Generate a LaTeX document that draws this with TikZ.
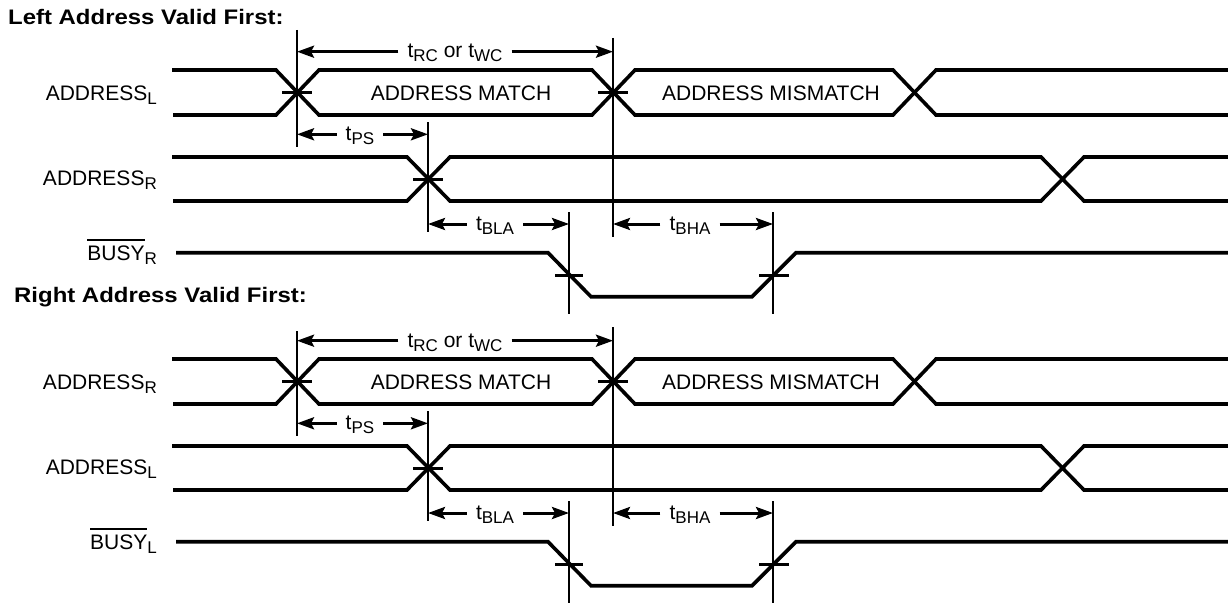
\documentclass[tikz,border=0pt]{standalone}
\usepackage{fontspec}
\usepackage{graphicx}
\setmainfont{Liberation Sans}
\usetikzlibrary{arrows.meta}
\newcommand{\sbs}[1]{\raisebox{-4pt}{\fontsize{17}{17}\selectfont #1}}
\newcommand{\ovl}[1]{\vbox{\hrule height 1.8pt\kern 4.2pt\hbox{#1}}}
\tikzset{
  wave/.style={line width=3.6pt},
  vline/.style={line width=2pt},
  tickmark/.style={line width=3pt},
  dim/.style={line width=3pt,-{Stealth[length=17pt,width=12pt,inset=3pt]}},
  lbl/.style={inner sep=0pt,anchor=base east,font=\fontsize{21}{24}\selectfont},
  txt/.style={inner sep=0pt,anchor=base,font=\fontsize{21}{24}\selectfont},
  tlab/.style={inner xsep=9pt,inner ysep=0pt,anchor=base,font=\fontsize{21}{24}\selectfont},
  ttl/.style={inner sep=0pt,anchor=base west,font=\fontsize{21}{24}\selectfont\bfseries},
}
% #1 prefix, #2 upper label, #3 lower label, #4 busy label, #5 top of first vertical, #6 yshift
\newcommand{\tblock}[6]{%
\begin{scope}[yshift=#6,name prefix=#1]
  \node[lbl] (sa) at (157,100) {#2};
  \node[lbl] (sb) at (157,185) {#3};
  \node[lbl] (bz) at (157,260) {#4};
  % upper bus
  \draw[wave] (172,70) -- (276,70) -- (319,115) -- (592,115) -- (635,70) -- (893,70) -- (936,115) -- (1228,115);
  \draw[wave] (173,115) -- (276,115) -- (319,70) -- (592,70) -- (635,115) -- (893,115) -- (936,70) -- (1228,70);
  \node[txt] (match) at (461,100) {ADDRESS MATCH};
  \node[txt] (mismatch) at (771,100) {ADDRESS MISMATCH};
  % lower bus
  \draw[wave] (172,157) -- (407,157) -- (450,201) -- (1041,201) -- (1084,157) -- (1228,157);
  \draw[wave] (173,201) -- (407,201) -- (450,157) -- (1041,157) -- (1084,201) -- (1228,201);
  % busy
  \draw[wave] (176,252.7) -- (548,252.7) -- (591,296.7) -- (752,296.7) -- (796,252.7) -- (1228,252.7);
  % vertical reference lines
  \coordinate (v1t) at (297,#5);  \coordinate (v1b) at (297,147);
  \coordinate (v2t) at (613,38);  \coordinate (v2b) at (613,237);
  \coordinate (v3t) at (428,122); \coordinate (v3b) at (428,232);
  \coordinate (v4t) at (569,212); \coordinate (v4b) at (569,314);
  \coordinate (v5t) at (773,212); \coordinate (v5b) at (773,314);
  \draw[vline] (v1t) -- (v1b);
  \draw[vline] (v2t) -- (v2b);
  \draw[vline] (v3t) -- (v3b);
  \draw[vline] (v4t) -- (v4b);
  \draw[vline] (v5t) -- (v5b);
  % tick marks
  \draw[tickmark] (282,92.5) -- (312,92.5);
  \draw[tickmark] (598,92.5) -- (628,92.5);
  \draw[tickmark] (413,179) -- (443,179);
  \draw[tickmark] (555,275) -- (583,275);
  \draw[tickmark] (759,275) -- (789,275);
  % dimension arrows
  \coordinate (rcL) at (297,51.7); \coordinate (rcR) at (613,51.7);
  \node[tlab] (trc) at (455,58) {t\sbs{RC} or t\sbs{WC}};
  \draw[dim] (trc.west |- rcL) -- (rcL);
  \draw[dim] (trc.east |- rcR) -- (rcR);
  \coordinate (psL) at (297,134.3); \coordinate (psR) at (428,134.3);
  \node[tlab] (tps) at (360,140.5) {t\sbs{PS}};
  \draw[dim] (tps.west |- psL) -- (psL);
  \draw[dim] (tps.east |- psR) -- (psR);
  \coordinate (blaL) at (428,224); \coordinate (blaR) at (569,224);
  \node[tlab] (tbla) at (495,230.5) {t\sbs{BLA}};
  \draw[dim] (tbla.west |- blaL) -- (blaL);
  \draw[dim] (tbla.east |- blaR) -- (blaR);
  \coordinate (bhaL) at (613,224); \coordinate (bhaR) at (773,224);
  \node[tlab] (tbha) at (690,230.5) {t\sbs{BHA}};
  \draw[dim] (tbha.west |- bhaL) -- (bhaL);
  \draw[dim] (tbha.east |- bhaR) -- (bhaR);
\end{scope}}
\begin{document}
\begin{tikzpicture}[x=1pt,y=-1pt]
  \useasboundingbox (0,0) rectangle (1228,602);
  \node[ttl] (title1) at (8,25) {\scalebox{1.14}[1]{Left Address Valid First:}};
  \node[ttl] (title2) at (14,302) {\scalebox{1.14}[1]{Right Address Valid First:}};
  \tblock{top-}{ADDRESS\sbs{L}}{ADDRESS\sbs{R}}{\ovl{BUSY}\sbs{R}}{30}{0pt}
  \tblock{bot-}{ADDRESS\sbs{R}}{ADDRESS\sbs{L}}{\ovl{BUSY}\sbs{L}}{42}{-289pt}
\end{tikzpicture}
\end{document}
